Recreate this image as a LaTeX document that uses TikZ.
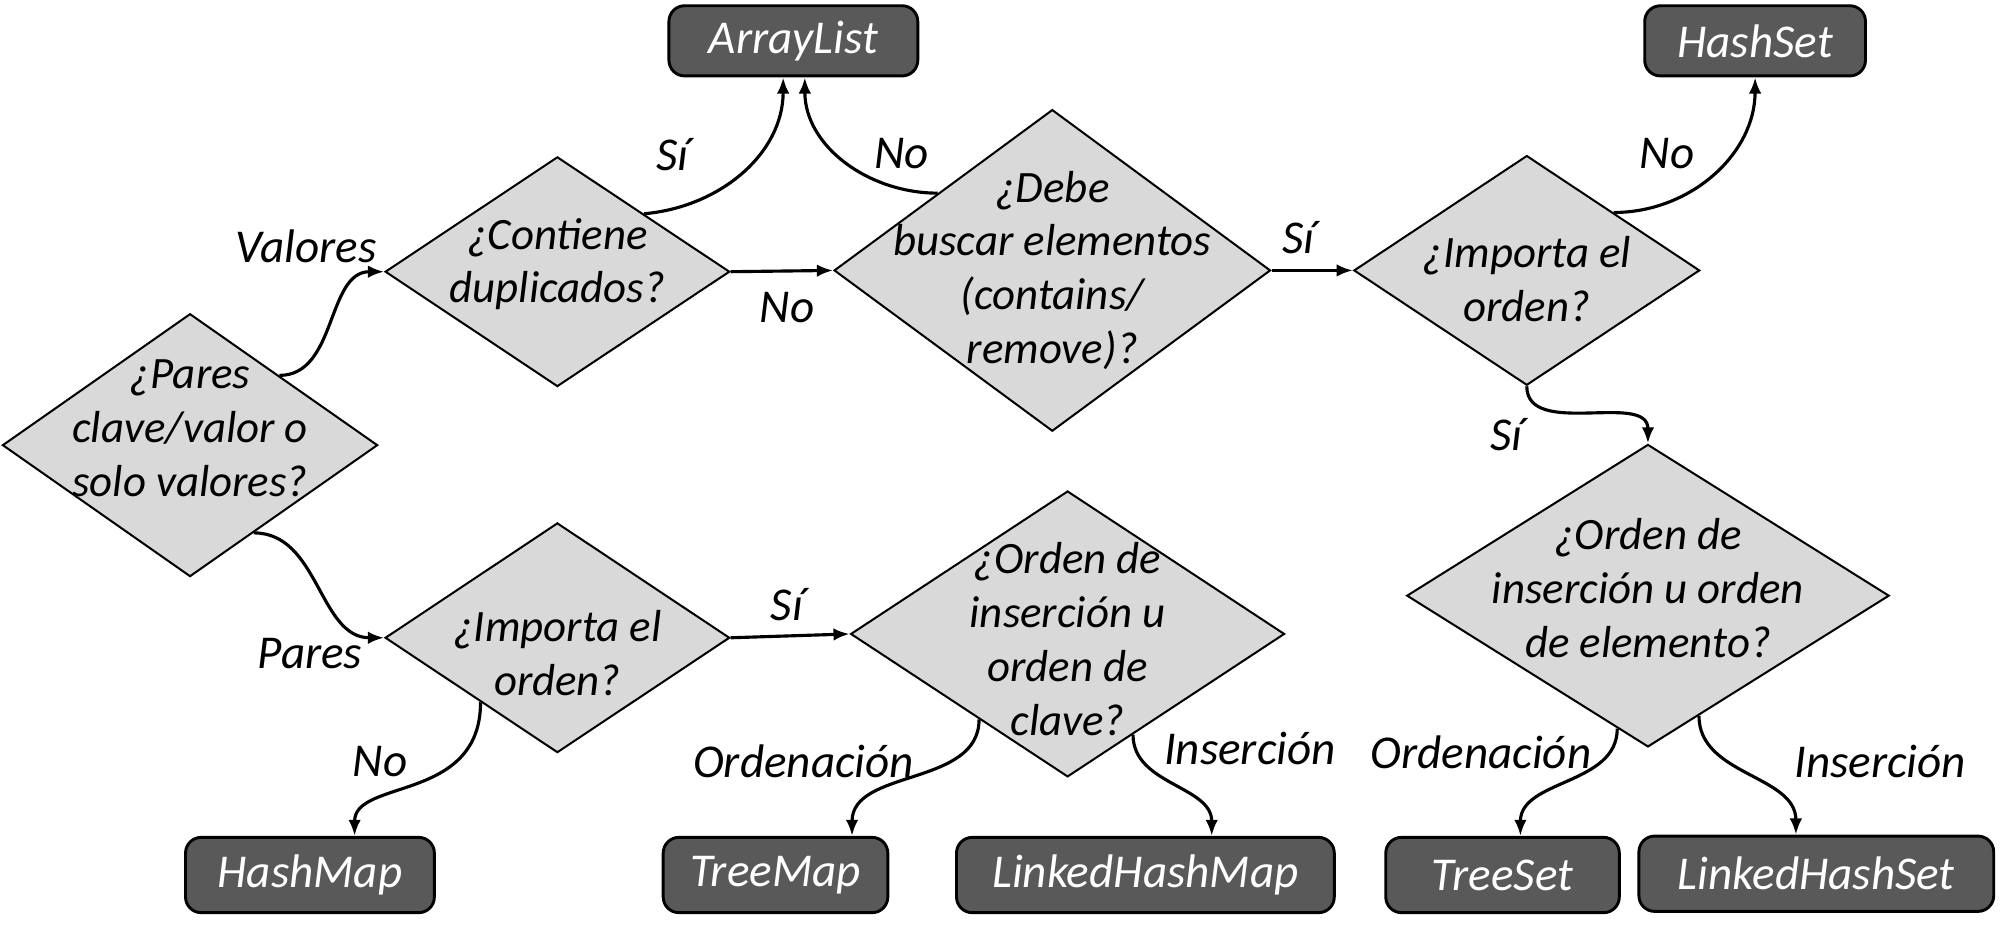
\documentclass[tikz,border=0pt]{standalone}
\usepackage{fontspec}
\setmainfont{Carlito}
\usetikzlibrary{positioning,shapes.geometric,arrows.meta,calc}

\definecolor{qgray}{HTML}{D9D9D9}
\definecolor{boxgray}{HTML}{595959}

\begin{document}
\begin{tikzpicture}[x=0.01cm, y=0.01cm,
    font=\itshape\fontsize{10.5}{12}\selectfont,
    decision/.style={diamond, draw=black, line width=0.45pt, fill=qgray, inner sep=0pt},
    question/.style={align=center, inner sep=0pt, font=\itshape\fontsize{10}{12}\selectfont},
    result/.style={rectangle, rounded corners=3.5pt, draw=black, line width=0.65pt, fill=boxgray, text=white, minimum height=0.59cm},
    link/.style={-{Latex[length=3.6pt,width=2.8pt]}, line width=0.7pt},
    answer/.style={inner sep=0pt}]
  \useasboundingbox (0,0) rectangle (1568,-732);

  % preguntas
  \node[decision, minimum width=2.94cm, minimum height=2.06cm,
        label={[question, yshift=0.13cm]center:¿Pares\\clave/valor o\\solo valores?}] (pares) at (149,-349) {};
  \node[decision, minimum width=2.70cm, minimum height=1.80cm,
        label={[question, yshift=0.06cm]center:¿Contiene\\duplicados?}] (contiene) at (437,-213) {};
  \node[decision, minimum width=3.42cm, minimum height=2.52cm,
        label={[question]center:¿Debe\\buscar elementos\\(contains/\\remove)?}] (debe) at (825,-212) {};
  \node[decision, minimum width=2.71cm, minimum height=1.80cm,
        label={[question, yshift=-0.07cm]center:¿Importa el\\orden?}] (ordenI) at (1197,-212) {};
  \node[decision, minimum width=3.78cm, minimum height=2.37cm,
        label={[question, yshift=0.06cm]center:¿Orden de\\inserción u orden\\de elemento?}] (ordenE) at (1292,-467) {};
  \node[decision, minimum width=2.70cm, minimum height=1.80cm,
        label={[question, yshift=-0.12cm]center:¿Importa el\\orden?}] (importaP) at (437,-500) {};
  \node[decision, minimum width=3.40cm, minimum height=2.24cm,
        label={[question, yshift=-0.04cm]center:¿Orden de\\inserción u\\orden de\\clave?}] (ordenC) at (837,-497) {};

  % colecciones
  \node[result, minimum width=1.95cm, minimum height=0.55cm] (arraylist) at (622,-32) {ArrayList};
  \node[result, minimum width=1.73cm, minimum height=0.55cm] (hashset) at (1376,-32) {HashSet};
  \node[result, minimum width=1.95cm] (hashmap) at (243,-686) {HashMap};
  \node[result, minimum width=1.76cm] (treemap) at (608,-686) {TreeMap};
  \node[result, minimum width=2.96cm] (lhmap) at (898,-686) {LinkedHashMap};
  \node[result, minimum width=1.83cm] (treeset) at (1178,-686) {TreeSet};
  \node[result, minimum width=2.78cm] (lhset) at (1424,-685) {LinkedHashSet};

  % flechas
  \draw[link] (pares.38) to[out=0, in=180] (contiene.west);
  \draw[link] (pares.-54) to[out=0, in=180] (importaP.west);
  \draw[link] (contiene.north east) to[out=5, in=-90] ($(arraylist.south)+(-8,0)$);
  \draw[link] (contiene.east) -- (debe.west);
  \draw[link] (debe.146) to[out=180, in=-90] ($(arraylist.south)+(9,0)$);
  \draw[link] (debe.east) -- (ordenI.west);
  \draw[link] (ordenI.north east) to[out=0, in=-90] (hashset.south);
  \draw[link] (ordenI.south) to[out=-90, in=90] (ordenE.north);
  \draw[link] (importaP.-140) to[out=-90, in=90, out looseness=1.4, in looseness=0.8] ($(hashmap.north)+(35,0)$);
  \draw[link] (importaP.east) -- (ordenC.west);
  \draw[link] (ordenC.-136) to[out=-90, in=90] ($(treemap.north)+(60,0)$);
  \draw[link] (ordenC.-57) to[out=-90, in=90] ($(lhmap.north)+(52,0)$);
  \draw[link] (ordenE.-103) to[out=-90, in=90] ($(treeset.north)+(14,0)$);
  \draw[link] (ordenE.-67) to[out=-90, in=90] ($(lhset.north)+(-16,0)$);

  % respuestas
  \node[answer] (valores) at (240,-193) {Valores};
  \node[answer] (siA) at (527,-121) {Sí};
  \node[answer] (noA) at (707,-120) {No};
  \node[answer] (noB) at (617,-241) {No};
  \node[answer] (siB) at (1018,-186) {Sí};
  \node[answer] (noC) at (1307,-120) {No};
  \node[answer] (siC) at (1181,-341) {Sí};
  \node[answer] (paresL) at (243,-512) {Pares};
  \node[answer] (noD) at (298,-597) {No};
  \node[answer] (siD) at (617,-474) {Sí};
  \node[answer] (ordA) at (630,-597) {Ordenación};
  \node[answer] (insA) at (980,-587) {Inserción};
  \node[answer] (ordB) at (1161,-590) {Ordenación};
  \node[answer] (insB) at (1474,-597) {Inserción};
\end{tikzpicture}
\end{document}
